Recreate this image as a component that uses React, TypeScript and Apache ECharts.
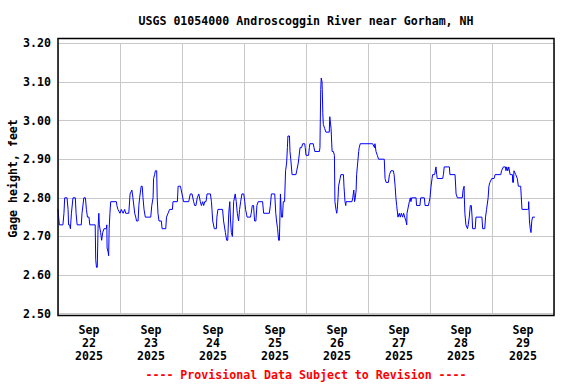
import React, { useEffect, useRef } from "react";
import * as echarts from "echarts";

// Hours since 2025-09-22 00:00 (local) and gage height readings (feet)
const hours: number[] = [
  0.0, 0.5, 1.9, 2.3, 2.6, 3.5, 3.9, 4.1, 4.5, 4.8, 5.2, 5.8, 6.7, 7.0, 7.4, 9.0, 9.3, 10.0, 10.6, 11.0,
  11.4, 12.0, 12.3, 14.4, 14.6, 14.9, 15.2, 15.5, 15.8, 16.0, 16.5, 16.9, 17.3, 17.8, 18.7, 18.9, 19.0, 19.4, 19.6, 19.8,
  20.1, 20.4, 22.6, 22.8, 23.2, 24.0, 24.5, 25.2, 25.8, 26.2, 27.4, 27.9, 28.6, 29.0, 29.7, 30.1, 30.4, 31.0, 31.3, 31.6,
  32.2, 32.6, 32.9, 33.3, 33.8, 35.9, 36.3, 36.8, 37.0, 37.4, 37.7, 38.2, 38.4, 38.7, 39.1, 40.0, 40.3, 41.7, 42.0, 42.6,
  43.2, 44.3, 44.5, 46.2, 46.5, 47.4, 48.0, 48.6, 50.6, 51.2, 51.9, 52.5, 52.9, 53.4, 53.9, 54.5, 55.1, 55.5, 56.0, 56.4,
  56.8, 57.3, 57.7, 59.0, 59.4, 59.6, 59.9, 60.5, 61.3, 61.5, 61.9, 63.7, 64.1, 64.8, 65.3, 65.7, 66.1, 66.5, 66.8, 67.1,
  67.5, 68.0, 68.6, 69.0, 69.4, 69.9, 70.3, 70.7, 71.2, 71.9, 72.3, 72.6, 73.2, 74.5, 74.8, 75.2, 75.7, 76.1, 76.6, 77.0,
  77.5, 79.2, 79.6, 81.8, 82.2, 82.6, 83.9, 84.3, 84.6, 85.0, 85.4, 85.7, 86.1, 86.5, 86.9, 87.2, 87.7, 88.1, 88.5, 88.8,
  89.0, 89.6, 89.8, 90.1, 90.6, 92.1, 92.4, 93.0, 93.7, 94.3, 94.7, 95.5, 95.7, 96.0, 97.0, 97.3, 97.5, 98.8, 99.1, 99.4,
  101.2, 101.4, 101.7, 101.9, 102.2, 102.3, 102.5, 102.7, 103.2, 103.7, 105.0, 105.2, 105.4, 105.7, 106.1, 106.6, 107.0, 107.2, 107.6, 107.9,
  108.1, 108.4, 108.6, 109.2, 109.5, 110.5, 110.7, 111.1, 111.4, 111.5, 113.8, 114.1, 114.5, 114.8, 115.1, 115.4, 115.6, 116.0, 116.4, 116.6,
  117.0, 121.8, 122.5, 122.7, 123.1, 123.6, 124.1, 126.3, 126.6, 127.0, 127.9, 128.3, 128.9, 129.8, 130.1, 130.5, 130.8, 131.1, 131.6, 132.1,
  132.5, 132.9, 133.4, 133.8, 134.2, 134.7, 135.0, 135.1, 136.0, 136.4, 136.6, 136.9, 138.6, 138.8, 140.1, 140.4, 141.8, 142.1, 143.4, 143.7,
  144.0, 144.4, 144.8, 145.0, 145.8, 146.3, 146.6, 146.8, 148.9, 149.2, 149.5, 151.5, 151.7, 153.7, 154.1, 154.6, 156.5, 156.8, 157.2, 157.3,
  157.5, 157.9, 158.5, 158.8, 159.2, 159.6, 160.0, 160.3, 160.5, 161.5, 161.8, 164.1, 164.4, 165.2, 165.5, 165.9, 166.5, 166.8, 167.2, 167.9,
  168.8, 169.2, 171.4, 171.7, 172.4, 173.2, 173.4, 173.7, 174.1, 174.5, 175.0, 175.9, 176.0, 176.3, 176.5, 177.2, 177.8, 178.2, 179.1, 179.6,
  181.7, 182.1, 182.2, 182.5, 182.8, 183.1, 183.4, 183.7, 184.6,
];

const gageHeight: number[] = [
  2.77, 2.73, 2.73, 2.76, 2.80, 2.80, 2.77, 2.73, 2.73, 2.72, 2.76, 2.80, 2.80, 2.76, 2.73, 2.73, 2.76, 2.80, 2.80, 2.77,
  2.75, 2.75, 2.73, 2.73, 2.64, 2.62, 2.62, 2.72, 2.76, 2.73, 2.71, 2.69, 2.71, 2.72, 2.72, 2.73, 2.67, 2.66, 2.65, 2.72,
  2.76, 2.79, 2.79, 2.78, 2.77, 2.76, 2.77, 2.76, 2.77, 2.76, 2.76, 2.81, 2.82, 2.80, 2.76, 2.75, 2.74, 2.74, 2.78, 2.80,
  2.83, 2.83, 2.80, 2.77, 2.75, 2.75, 2.78, 2.80, 2.85, 2.86, 2.87, 2.87, 2.80, 2.76, 2.74, 2.74, 2.72, 2.72, 2.75, 2.76,
  2.77, 2.77, 2.79, 2.79, 2.83, 2.83, 2.81, 2.79, 2.79, 2.81, 2.81, 2.79, 2.78, 2.78, 2.80, 2.81, 2.79, 2.78, 2.79, 2.78,
  2.79, 2.79, 2.81, 2.81, 2.79, 2.77, 2.74, 2.72, 2.72, 2.75, 2.77, 2.77, 2.74, 2.71, 2.69, 2.69, 2.76, 2.79, 2.74, 2.71,
  2.70, 2.79, 2.81, 2.79, 2.76, 2.74, 2.77, 2.79, 2.81, 2.81, 2.79, 2.77, 2.75, 2.75, 2.76, 2.78, 2.78, 2.74, 2.74, 2.78,
  2.79, 2.79, 2.76, 2.76, 2.78, 2.81, 2.81, 2.76, 2.74, 2.72, 2.69, 2.69, 2.81, 2.75, 2.75, 2.79, 2.79, 2.87, 2.89, 2.93,
  2.96, 2.96, 2.92, 2.90, 2.86, 2.86, 2.87, 2.89, 2.93, 2.93, 2.94, 2.94, 2.93, 2.91, 2.91, 2.93, 2.94, 2.94, 2.93, 2.92,
  2.92, 2.93, 3.08, 3.11, 3.10, 3.08, 3.02, 2.99, 2.98, 2.97, 2.97, 3.01, 3.01, 2.98, 2.92, 2.92, 2.91, 2.79, 2.77, 2.76,
  2.77, 2.80, 2.83, 2.85, 2.86, 2.86, 2.83, 2.79, 2.78, 2.79, 2.79, 2.80, 2.82, 2.79, 2.80, 2.82, 2.86, 2.89, 2.92, 2.93,
  2.94, 2.94, 2.93, 2.94, 2.92, 2.91, 2.90, 2.90, 2.85, 2.84, 2.84, 2.86, 2.87, 2.87, 2.86, 2.83, 2.80, 2.78, 2.75, 2.76,
  2.75, 2.76, 2.75, 2.76, 2.75, 2.74, 2.73, 2.76, 2.79, 2.80, 2.79, 2.80, 2.80, 2.78, 2.78, 2.80, 2.80, 2.78, 2.78, 2.79,
  2.80, 2.83, 2.85, 2.86, 2.86, 2.88, 2.86, 2.85, 2.85, 2.86, 2.88, 2.88, 2.86, 2.86, 2.81, 2.80, 2.80, 2.82, 2.83, 2.80,
  2.76, 2.73, 2.72, 2.73, 2.75, 2.78, 2.78, 2.75, 2.72, 2.72, 2.75, 2.75, 2.72, 2.72, 2.75, 2.77, 2.80, 2.83, 2.84, 2.85,
  2.85, 2.86, 2.86, 2.87, 2.88, 2.88, 2.87, 2.88, 2.87, 2.88, 2.86, 2.86, 2.84, 2.84, 2.87, 2.86, 2.85, 2.83, 2.83, 2.77,
  2.77, 2.77, 2.79, 2.74, 2.72, 2.71, 2.74, 2.75, 2.75,
];

const dayLabels: string[] = [
  "Sep\n22\n2025", "Sep\n23\n2025", "Sep\n24\n2025", "Sep\n25\n2025",
  "Sep\n26\n2025", "Sep\n27\n2025", "Sep\n28\n2025", "Sep\n29\n2025",
];

const titleText = "USGS 01054000 Androscoggin River near Gorham, NH";
const footerText = "---- Provisional Data Subject to Revision ----";
const yAxisName = "Gage height, feet";

const FONT = "'DejaVu Sans Mono', 'Liberation Mono', monospace";

export default function App() {
  const ref = useRef<HTMLDivElement>(null);

  useEffect(() => {
    if (!ref.current) return;
    const chart = echarts.init(ref.current, undefined, { renderer: "svg" });
    const data = hours.map((h, i) => [h, gageHeight[i]]);
    const gridLine = { show: true, lineStyle: { color: "#c8c8c8", width: 1 } };
    chart.setOption({
      animation: false,
      backgroundColor: "#ffffff",
      grid: {
        left: 58,
        right: 22,
        top: 43.3,
        bottom: 70.3,
        containLabel: false,
        outerBoundsMode: "none",
      },
      xAxis: [
        {
          type: "value",
          min: 0,
          max: 192,
          show: false,
        },
        {
          type: "category",
          data: dayLabels,
          boundaryGap: true,
          position: "bottom",
          axisLine: { show: false },
          axisTick: { show: false },
          splitLine: { ...gridLine, interval: 0 },
          axisLabel: {
            interval: 0,
            margin: 10,
            color: "#000",
            fontFamily: FONT,
            fontWeight: "bold",
            fontSize: 11.6,
            lineHeight: 13,
          },
        },
      ],
      yAxis: {
        type: "value",
        min: 2.5,
        max: 3.2,
        interval: 0.1,
        axisLine: { show: false },
        axisTick: { show: false },
        splitLine: gridLine,
        axisLabel: {
          margin: 7,
          color: "#000",
          fontFamily: FONT,
          fontWeight: "bold",
          fontSize: 11.6,
          formatter: (v: number) => v.toFixed(2),
        },
        name: yAxisName,
        nameLocation: "middle",
        nameRotate: 90,
        nameGap: 39,
        nameMoveOverlap: false,
        nameTextStyle: {
          color: "#000",
          fontFamily: FONT,
          fontWeight: "bold",
          fontSize: 11.6,
        },
      },
      series: [
        {
          type: "line",
          xAxisIndex: 0,
          data,
          showSymbol: false,
          symbol: "none",
          lineStyle: { color: "#0000ff", width: 1 },
          z: 3,
        },
      ],
      graphic: [
        {
          type: "rect",
          shape: { x: 58, y: 38.5, width: 496, height: 277 },
          style: { fill: "none", stroke: "#000", lineWidth: 1.5 },
          z: 10,
          silent: true,
        },
        {
          type: "text",
          x: 306,
          y: 20.5,
          style: {
            text: titleText,
            fill: "#000",
            font: `bold 11.6px ${FONT}`,
            textAlign: "center",
            textVerticalAlign: "middle",
          },
        },
        {
          type: "text",
          x: 306,
          y: 375,
          style: {
            text: footerText,
            fill: "#ff0000",
            font: `bold 11.6px ${FONT}`,
            textAlign: "center",
            textVerticalAlign: "middle",
          },
        },
      ],
    });
    return () => chart.dispose();
  }, []);

  return (
    <div
      ref={ref}
      style={{ position: "fixed", left: 0, top: 0, width: 576, height: 384 }}
    />
  );
}
